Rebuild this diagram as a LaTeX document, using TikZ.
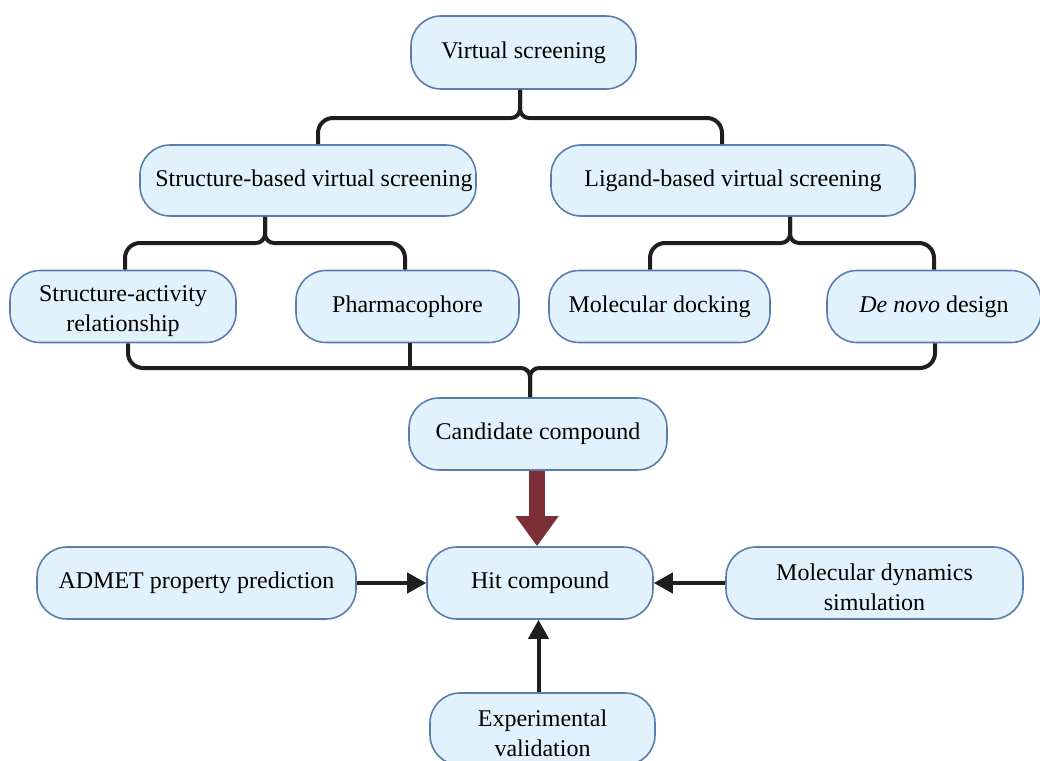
\documentclass[tikz,border=0pt]{standalone}
\usepackage{fontspec}
\setmainfont{Liberation Serif}
\usetikzlibrary{arrows.meta,calc}
\definecolor{boxfill}{HTML}{E2F2FC}
\definecolor{boxline}{HTML}{5B7DAE}
\definecolor{linec}{HTML}{1E1E1E}
\definecolor{redarrow}{HTML}{7D2F37}
\begin{document}
\begin{tikzpicture}[x=1pt,y=-1pt,
  box/.style={draw=boxline, line width=1.6pt, fill=boxfill, rounded corners=30pt,
    align=center, inner sep=0pt, minimum height=72pt, font=\fontsize{24}{30}\selectfont},
  conn/.style={draw=linec, line width=4pt},
  outer/.style={conn, rounded corners=15pt},
  inner/.style={conn, rounded corners=9pt},
  arr/.style={conn, -{Triangle[length=19pt,width=20pt]}}]
\useasboundingbox (0,0) rectangle (1040,760);

\node[box, minimum width=225pt, minimum height=73pt] (vs) at (523.5,52.5) {Virtual screening};
\node[box, minimum width=336pt, minimum height=71pt] (sbvs) at (308,180.5) {\hspace*{12pt}Structure-based virtual screening};
\node[box, minimum width=364pt, minimum height=71pt] (lbvs) at (733,180.5) {Ligand-based virtual screening};
\node[box, minimum width=226pt] (sar) at (123,306.5) {\rule{0pt}{26pt}Structure-activity\\relationship};
\node[box, minimum width=223pt] (pharm) at (407.5,306.5) {Pharmacophore};
\node[box, minimum width=221pt] (dock) at (659.5,306.5) {Molecular docking};
\node[box, minimum width=214pt] (denovo) at (934,306.5) {\textit{De novo} design};
\node[box, minimum width=258pt] (cand) at (538,434) {Candidate compound};
\node[box, minimum width=226pt] (hit) at (540,583) {Hit compound};
\node[box, minimum width=319pt] (admet) at (196.5,583) {ADMET property prediction};
\node[box, minimum width=297pt] (mds) at (874.5,583) {\rule{0pt}{26pt}Molecular dynamics\\simulation};
\node[box, minimum width=225pt] (exp) at (542.5,729) {\rule{0pt}{26pt}Experimental\\validation};

% top brace
\coordinate (j1) at (520,118);
\draw[outer] ($(sbvs.north)+(10,0)$) |- ([xshift=-20pt]j1);
\draw[outer] ($(lbvs.north)+(-11,0)$) |- ([xshift=20pt]j1);
\draw[inner] ([xshift=-20pt]j1) -- (j1) -- (j1 |- vs.south);
\draw[inner] ([xshift=20pt]j1) -- (j1) -- (j1 |- vs.south);

% structure-based brace
\coordinate (j2) at (265,243);
\draw[outer] ($(sar.north)+(2,0)$) |- ([xshift=-20pt]j2);
\draw[outer] ($(pharm.north)+(-2.5,0)$) |- ([xshift=20pt]j2);
\draw[inner] ([xshift=-20pt]j2) -- (j2) -- (j2 |- sbvs.south);
\draw[inner] ([xshift=20pt]j2) -- (j2) -- (j2 |- sbvs.south);

% ligand-based brace
\coordinate (j3) at (790,243);
\draw[outer] ($(dock.north)+(-9.5,0)$) |- ([xshift=-20pt]j3);
\draw[outer] (denovo.north) |- ([xshift=20pt]j3);
\draw[inner] ([xshift=-20pt]j3) -- (j3) -- (j3 |- lbvs.south);
\draw[inner] ([xshift=20pt]j3) -- (j3) -- (j3 |- lbvs.south);

% bottom brace
\coordinate (j4) at (530,368);
\draw[outer] ($(sar.south)+(5,0)$) |- ([xshift=-20pt]j4);
\draw[outer] ($(denovo.south)+(1,0)$) |- ([xshift=20pt]j4);
\draw[inner] ([xshift=-20pt]j4) -- (j4) -- (j4 |- cand.north);
\draw[inner] ([xshift=20pt]j4) -- (j4) -- (j4 |- cand.north);
\draw[conn] ($(pharm.south)+(2.5,0)$) coordinate (pb) -- (pb |- j4);

% red arrow
\draw[draw=redarrow, line width=16pt, -{Triangle[length=30pt,width=41pt]}]
  ($(cand.south)+(-1,0)$) coordinate (cs) -- (cs |- hit.north);

% side arrows
\draw[arr] (admet.east) -- (hit.west);
\draw[arr] (mds.west) -- (hit.east);
\draw[arr] ($(exp.north)+(-4,0)$) coordinate (en) -- (en |- hit.south);
\end{tikzpicture}
\end{document}
